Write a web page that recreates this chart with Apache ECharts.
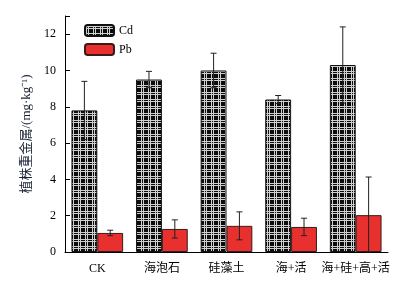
<!DOCTYPE html>
<html>
<head>
<meta charset="utf-8">
<script src="https://cdn.jsdelivr.net/npm/echarts@6/dist/echarts.min.js"></script>
<style>
html, body { margin: 0; padding: 0; background: #fff; }
#main { width: 404px; height: 281px; }
</style>
</head>
<body>
<div id="main"></div>
<script>
var categories = ["CK", "海泡石", "硅藻土", "海+活", "海+硅+高+活"];
var cdValues = [7.8, 9.5, 10.0, 8.4, 10.3];
var cdErrors = [1.6, 0.45, 0.95, 0.22, 2.1];
var pbValues = [1.05, 1.27, 1.44, 1.38, 2.03];
var pbErrors = [0.15, 0.5, 0.77, 0.48, 2.1];

var serif = "'Liberation Serif', 'Noto Sans CJK SC', serif";

// black plaid fill for the Cd bars
function makePattern() {
  var c = document.createElement("canvas");
  c.width = 7;
  c.height = 7;
  var ctx = c.getContext("2d");
  ctx.fillStyle = "#0c0c0c";
  ctx.fillRect(0, 0, 7, 7);
  ctx.fillStyle = "#cfcfcf";
  ctx.fillRect(1, 0, 1, 7);
  ctx.fillRect(3, 0, 1, 7);
  ctx.fillRect(0, 1, 7, 1);
  ctx.fillRect(0, 3, 7, 1);
  return c;
}

function errData(vals, errs) {
  var arr = [];
  vals.forEach(function (v, i) {
    arr.push([i, v, errs[i]]);
  });
  return arr;
}

function errorBars(side) {
  return function (params, api) {
    var i = api.value(0);
    var v = api.value(1);
    var e = api.value(2);
    var band = api.size([1, 0])[0];
    var x = api.coord([i, v])[0] + side * band * 0.2;
    var top = api.coord([i, v + e])[1];
    var bot = api.coord([i, Math.max(v - e, 0)])[1];
    var st = { stroke: "#222", lineWidth: 1 };
    return {
      type: "group",
      children: [
        { type: "line", shape: { x1: x, y1: top, x2: x, y2: bot }, style: st },
        { type: "line", shape: { x1: x - 3, y1: top, x2: x + 3, y2: top }, style: st },
        { type: "line", shape: { x1: x - 3, y1: bot, x2: x + 3, y2: bot }, style: st }
      ]
    };
  };
}

var chart = echarts.init(document.getElementById("main"));
var option = {
  animation: false,
  grid: { left: 65, right: 16, top: 16, bottom: 29 },
  legend: {
    orient: "vertical",
    left: 79,
    top: 19,
    itemWidth: 29,
    itemHeight: 11,
    itemGap: 6,
    textStyle: { fontFamily: serif, fontSize: 12, color: "#000" },
    data: ["Cd", "Pb"]
  },
  xAxis: {
    type: "category",
    data: categories,
    axisLine: { lineStyle: { color: "#000", width: 1 } },
    axisTick: { inside: true, length: 4, lineStyle: { color: "#000" } },
    axisLabel: { interval: 0, fontFamily: serif, fontSize: 12, color: "#000", margin: 11 }
  },
  yAxis: {
    type: "value",
    min: 0,
    max: 13,
    interval: 2,
    name: "植株重金属/(mg·kg⁻¹)",
    nameLocation: "middle",
    nameGap: 31,
    nameTextStyle: { fontFamily: serif, fontSize: 13, color: "#1a2233" },
    splitLine: { show: false },
    axisLine: { show: true, lineStyle: { color: "#000", width: 1 } },
    axisTick: { show: true, inside: true, length: 5, lineStyle: { color: "#000" } },
    axisLabel: {
      fontFamily: serif, fontSize: 12, color: "#000", margin: 9,
      formatter: function (v) { return v === 13 ? "" : v; }
    }
  },
  series: [
    {
      name: "Cd",
      type: "bar",
      data: cdValues,
      barGap: "0%",
      barCategoryGap: "20%",
      itemStyle: {
        color: { image: makePattern(), repeat: "repeat" },
        borderColor: "#111",
        borderWidth: 1
      }
    },
    {
      name: "Pb",
      type: "bar",
      data: pbValues,
      itemStyle: { color: "#e8302e", borderColor: "#3a1a1a", borderWidth: 1 }
    },
    {
      type: "custom",
      renderItem: errorBars(-1),
      data: errData(cdValues, cdErrors),
      encode: { x: 0, y: 1 },
      z: 5
    },
    {
      type: "custom",
      renderItem: errorBars(1),
      data: errData(pbValues, pbErrors),
      encode: { x: 0, y: 1 },
      z: 5
    }
  ]
};
chart.setOption(option);
</script>
</body>
</html>
